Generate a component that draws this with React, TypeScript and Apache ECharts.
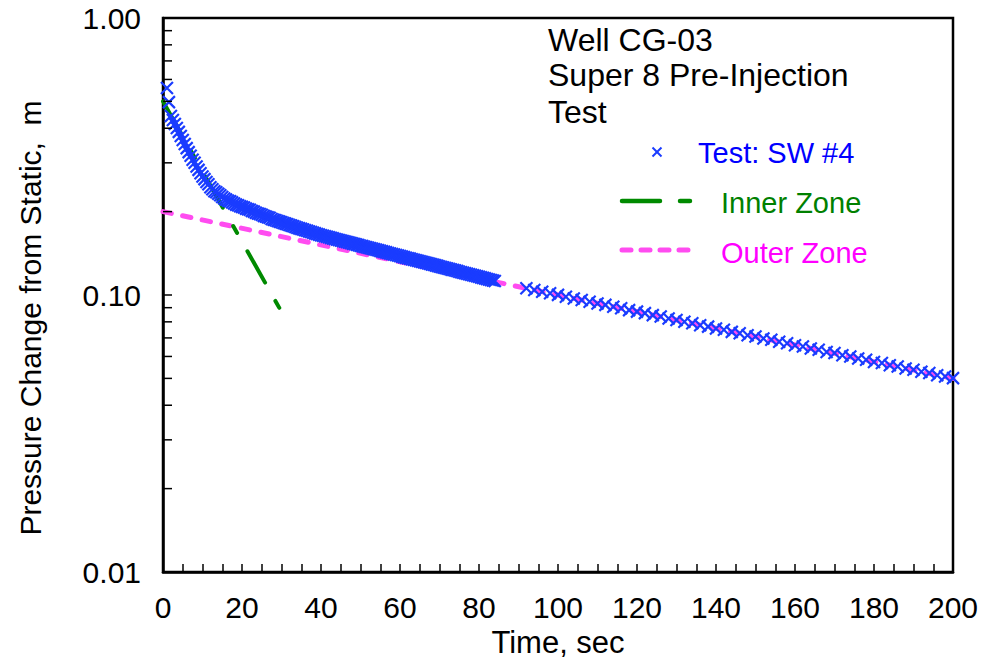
import React, { useEffect, useRef } from "react";
import * as echarts from "echarts";

// Falloff test record: [time (s), pressure change from static (m)]
const TEST_SW4: [number, number][] = [
  [1.0, 0.559], [1.5, 0.497], [2.0, 0.443], [2.5, 0.428], [3.0, 0.414], [3.5, 0.401],
  [4.0, 0.388], [4.5, 0.375], [5.0, 0.363], [5.5, 0.351], [6.0, 0.339], [6.5, 0.328],
  [7.0, 0.318], [7.5, 0.308], [8.0, 0.300], [8.5, 0.291], [9.0, 0.283], [9.5, 0.275],
  [10.0, 0.268], [10.5, 0.262], [11.0, 0.256], [11.5, 0.251], [12.0, 0.245], [12.5, 0.241],
  [13.0, 0.237], [13.5, 0.235], [14.0, 0.232], [14.5, 0.229], [15.0, 0.226], [15.5, 0.223],
  [16.0, 0.221], [16.5, 0.219], [17.0, 0.218], [17.5, 0.216], [18.0, 0.214], [18.5, 0.212],
  [19.0, 0.211], [19.5, 0.209], [20.0, 0.208], [20.5, 0.207], [21.0, 0.205], [21.5, 0.204],
  [22.0, 0.203], [22.5, 0.201], [23.0, 0.200], [23.5, 0.198], [24.0, 0.197], [24.5, 0.196],
  [25.0, 0.195], [25.5, 0.193], [26.0, 0.192], [26.5, 0.191], [27.0, 0.190], [27.5, 0.188],
  [28.0, 0.187], [28.5, 0.186], [29.0, 0.185], [29.5, 0.184], [30.0, 0.183], [30.5, 0.182],
  [31.0, 0.181], [31.5, 0.180], [32.0, 0.179], [32.5, 0.178], [33.0, 0.177], [33.5, 0.176],
  [34.0, 0.175], [34.5, 0.174], [35.0, 0.1733], [35.5, 0.1724], [36.0, 0.1714], [36.5, 0.1705],
  [37.0, 0.1696], [37.5, 0.1687], [38.0, 0.1678], [38.5, 0.1669], [39.0, 0.166], [39.5, 0.1652],
  [40.0, 0.1643], [40.5, 0.1636], [41.0, 0.1629], [41.5, 0.1622], [42.0, 0.1615], [42.5, 0.1608],
  [43.0, 0.1601], [43.5, 0.1594], [44.0, 0.1587], [44.5, 0.158], [45.0, 0.1573], [45.5, 0.1567],
  [46.0, 0.156], [46.5, 0.1553], [47.0, 0.1546], [47.5, 0.154], [48.0, 0.1533], [48.5, 0.1527],
  [49.0, 0.152], [49.5, 0.1514], [50.0, 0.1507], [50.5, 0.1501], [51.0, 0.1494], [51.5, 0.1488],
  [52.0, 0.1481], [52.5, 0.1475], [53.0, 0.1468], [53.5, 0.1462], [54.0, 0.1456], [54.5, 0.145],
  [55.0, 0.1443], [55.5, 0.1437], [56.0, 0.1431], [56.5, 0.1425], [57.0, 0.1418], [57.5, 0.1412],
  [58.0, 0.1406], [58.5, 0.14], [59.0, 0.1394], [59.5, 0.1388], [60.0, 0.1382], [60.5, 0.1376],
  [61.0, 0.137], [61.5, 0.1364], [62.0, 0.1358], [62.5, 0.1353], [63.0, 0.1347], [63.5, 0.1341],
  [64.0, 0.1335], [64.5, 0.133], [65.0, 0.1324], [65.5, 0.1318], [66.0, 0.1312], [66.5, 0.1307],
  [67.0, 0.1301], [67.5, 0.1296], [68.0, 0.129], [68.5, 0.1285], [69.0, 0.1279], [69.5, 0.1274],
  [70.0, 0.1268], [70.5, 0.1263], [71.0, 0.1257], [71.5, 0.1252], [72.0, 0.1246], [72.5, 0.1241],
  [73.0, 0.1235], [73.5, 0.123], [74.0, 0.1225], [74.5, 0.122], [75.0, 0.1214], [75.5, 0.1209],
  [76.0, 0.1204], [76.5, 0.1199], [77.0, 0.1193], [77.5, 0.1188], [78.0, 0.1183], [78.5, 0.1178],
  [79.0, 0.1173], [79.5, 0.1168], [80.0, 0.1163], [80.5, 0.1158], [81.0, 0.1153], [81.5, 0.1148],
  [82.0, 0.1143], [82.5, 0.1138], [83.0, 0.1133], [83.5, 0.1128], [84.0, 0.1123],
  [92, 0.1058], [94, 0.1043], [96, 0.1027], [98, 0.1015], [100, 0.1001], [102, 0.0986],
  [104, 0.0972], [106, 0.0960], [108, 0.0946], [110, 0.0932], [112, 0.0921], [114, 0.0907],
  [116, 0.0896], [118, 0.0882], [120, 0.0871], [122, 0.0860], [124, 0.0846], [126, 0.0836],
  [128, 0.0823], [130, 0.0813], [132, 0.0800], [134, 0.0791], [136, 0.0778], [138, 0.0769],
  [140, 0.0757], [142, 0.0749], [144, 0.0736], [146, 0.0728], [148, 0.0716], [150, 0.0708],
  [152, 0.0697], [154, 0.0689], [156, 0.0678], [158, 0.0670], [160, 0.0659], [162, 0.0652],
  [164, 0.0641], [166, 0.0634], [168, 0.0623], [170, 0.0617], [172, 0.0606], [174, 0.0600],
  [176, 0.0590], [178, 0.0584], [180, 0.0573], [182, 0.0568], [184, 0.0558], [186, 0.0552],
  [188, 0.0543], [190, 0.0537], [192, 0.0528], [194, 0.0523], [196, 0.0513], [198, 0.0508],
  [200, 0.0501],
];

// Straight-line (semilog) fits for the two zones
const INNER_ZONE: [number, number][] = [
  [0, 0.5],
  [30, 0.087],
];
const OUTER_ZONE: [number, number][] = [
  [0, 0.2],
  [200, 0.05],
];

// Axis settings
const X_MIN = 0;
const X_MAX = 200;
const X_STEP = 20;
const Y_MIN = 0.01;
const Y_MAX = 1;
const Y_MINOR_TICKS = [0.02, 0.03, 0.04, 0.05, 0.06, 0.07, 0.08, 0.09, 0.2, 0.3, 0.4, 0.5, 0.6, 0.7, 0.8, 0.9];

const TITLE_LINES = ["Well CG-03", "Super 8 Pre-Injection", "Test"];
const SERIES_NAMES = ["Test: SW #4", "Inner Zone", "Outer Zone"];
const X_NAME = "Time, sec";
const Y_NAME = "Pressure Change from Static,  m";

const FONT = "'Liberation Sans', Arial, Helvetica, sans-serif";
const BLUE = "#1a3cff";
const GREEN = "#008a00";
const PINK = "#ff4cf0";
const X_SYMBOL = "path://M0 0L10 10M10 0L0 10";

export default function App() {
  const ref = useRef<HTMLDivElement>(null);

  useEffect(() => {
    if (!ref.current) return;
    const chart = echarts.init(ref.current, undefined, { renderer: "svg" });

    const titleText = TITLE_LINES.map((t, i) => ({
      type: "text",
      left: 548,
      top: [24, 59, 96][i],
      style: { text: t, fill: "#000", font: `32px ${FONT}` },
    }));

    chart.setOption({
      animation: false,
      backgroundColor: "#fff",
      grid: {
        left: 163,
        right: 29,
        top: 18,
        bottom: 88,
        show: true,
        borderColor: "#000",
        borderWidth: 2.5,
      },
      xAxis: {
        type: "value",
        min: X_MIN,
        max: X_MAX,
        interval: X_STEP,
        name: X_NAME,
        nameLocation: "middle",
        nameGap: 55,
        nameTextStyle: { color: "#000", fontSize: 31, fontFamily: FONT },
        axisLine: { lineStyle: { color: "#000", width: 2.5 } },
        axisTick: { inside: true, length: 8, lineStyle: { color: "#000", width: 1.5 } },
        minorTick: { show: true, splitNumber: 4, length: 8, lineStyle: { color: "#000", width: 1.5 } },
        axisLabel: { color: "#000", fontSize: 30, fontFamily: FONT, margin: 20 },
        splitLine: { show: false },
      },
      yAxis: {
        type: "log",
        logBase: 10,
        min: Y_MIN,
        max: Y_MAX,
        axisLine: { show: true, lineStyle: { color: "#000", width: 2.5 } },
        axisTick: { inside: true, length: 9, lineStyle: { color: "#000", width: 1.5 } },
        axisLabel: {
          color: "#000",
          fontSize: 30,
          fontFamily: FONT,
          margin: 22,
          formatter: (v: number) => v.toFixed(2),
        },
        splitLine: { show: false },
      },
      graphic: [
        ...titleText,
        {
          type: "text",
          x: 30,
          y: 318,
          rotation: Math.PI / 2,
          style: {
            text: Y_NAME,
            fill: "#000",
            font: `30px ${FONT}`,
            align: "center",
            verticalAlign: "middle",
          },
        },
        // legend: test marker
        {
          type: "group",
          x: 657,
          y: 152,
          children: [
            { type: "line", shape: { x1: -4.5, y1: -4.5, x2: 4.5, y2: 4.5 }, style: { stroke: BLUE, lineWidth: 2 } },
            { type: "line", shape: { x1: 4.5, y1: -4.5, x2: -4.5, y2: 4.5 }, style: { stroke: BLUE, lineWidth: 2 } },
          ],
        },
        {
          type: "text",
          left: 698,
          top: 138,
          style: { text: SERIES_NAMES[0], fill: "#0000ff", font: `29px ${FONT}` },
        },
        // legend: inner zone
        {
          type: "line",
          shape: { x1: 622, y1: 201, x2: 690, y2: 201 },
          style: { stroke: GREEN, lineWidth: 4.5, lineCap: "round", lineDash: [38, 20, 10, 20] },
        },
        {
          type: "text",
          left: 721,
          top: 188,
          style: { text: SERIES_NAMES[1], fill: "#008000", font: `29px ${FONT}` },
        },
        // legend: outer zone
        {
          type: "line",
          shape: { x1: 622, y1: 250, x2: 690, y2: 250 },
          style: { stroke: PINK, lineWidth: 5, lineCap: "round", lineDash: [9, 10] },
        },
        {
          type: "text",
          left: 721,
          top: 238,
          style: { text: SERIES_NAMES[2], fill: "#ff00ff", font: `29px ${FONT}` },
        },
      ],
      series: [
        {
          name: SERIES_NAMES[2],
          type: "line",
          data: OUTER_ZONE,
          symbol: "none",
          z: 2,
          lineStyle: { color: PINK, width: 5, type: [8.5, 11.5], cap: "round" },
        },
        {
          name: SERIES_NAMES[1],
          type: "line",
          data: INNER_ZONE,
          symbol: "none",
          z: 3,
          lineStyle: { color: GREEN, width: 4, type: [36, 21, 8, 21], cap: "round" },
        },
        {
          name: SERIES_NAMES[0],
          type: "scatter",
          data: TEST_SW4,
          symbol: X_SYMBOL,
          symbolSize: 12,
          z: 4,
          itemStyle: { color: "transparent", borderColor: BLUE, borderWidth: 2.2, opacity: 1 },
        },
        {
          // minor log-decade ticks on the pressure axis
          type: "custom",
          silent: true,
          clip: false,
          z: 5,
          data: Y_MINOR_TICKS.map((v) => [X_MIN, v]),
          renderItem: (_params: any, api: any) => {
            const p = api.coord([api.value(0), api.value(1)]);
            return {
              type: "line",
              shape: { x1: p[0], y1: p[1], x2: p[0] + 9, y2: p[1] },
              style: { stroke: "#000", lineWidth: 1.5 },
            };
          },
        },
      ],
    });

    return () => chart.dispose();
  }, []);

  return (
    <div
      ref={ref}
      style={{ position: "fixed", left: 0, top: 0, width: 982, height: 663 }}
    />
  );
}
